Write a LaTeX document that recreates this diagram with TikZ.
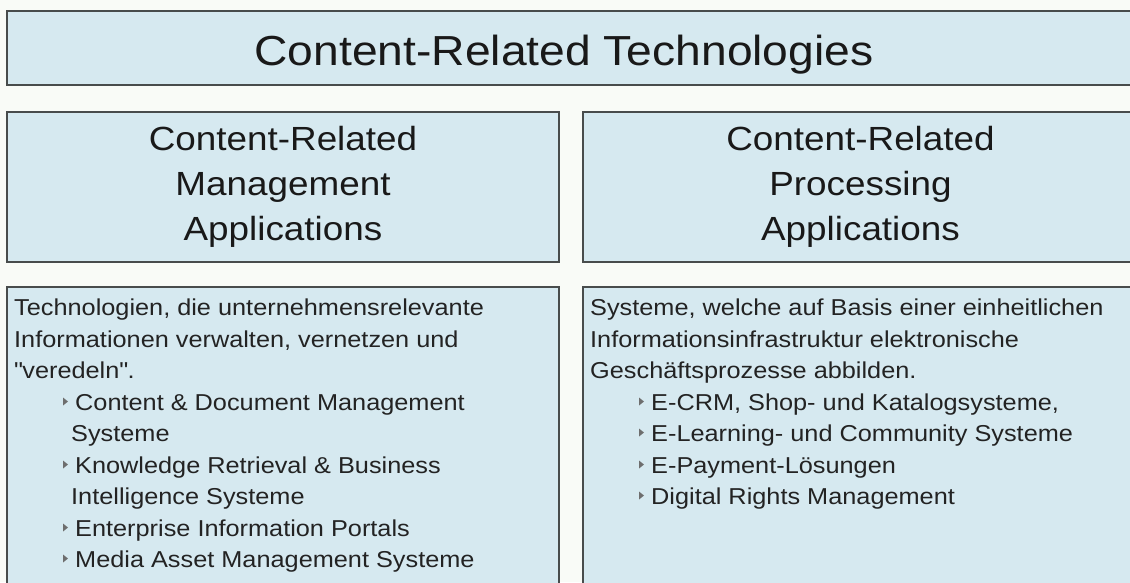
\documentclass[tikz,border=0pt]{standalone}
\usepackage{fontspec}
\setmainfont{Liberation Sans}[FakeStretch=1.1]
\definecolor{paper}{RGB}{249,251,247}
\definecolor{panelblue}{RGB}{214,233,240}
\definecolor{framegray}{RGB}{72,76,76}
\definecolor{inkgray}{RGB}{35,35,35}
\definecolor{markgray}{RGB}{110,110,110}
\tikzset{
	panel/.style={draw=framegray, line width=1.8pt, fill=panelblue, inner sep=0pt, outer sep=0pt, anchor=north west},
	headtext/.style={font=\fontsize{33.5}{45}\selectfont, align=center, text=black!90},
	bodyline/.style={font=\fontsize{23}{31.5}\selectfont, anchor=base west, inner sep=0pt, text=inkgray},
}
\newcommand{\marker}[1]{\fill[markgray] ([shift={(-12,-12.5)}]#1.base west) -- ++(0,8) -- ++(5,-4) -- cycle;}
\newcommand{\dq}{\XeTeXglyph\XeTeXcharglyph"22\relax}
\begin{document}
\begin{tikzpicture}[x=1pt, y=-1pt]
	\fill[paper] (0,0) rectangle (1130,582);
	\useasboundingbox (0,0) rectangle (1130,582);
	\clip (0,0) rectangle (1130,582);
	\node[panel, minimum width=1131pt, minimum height=74pt] (topbox) at (7,11) {};
	\node[font=\fontsize{42}{50}\selectfont, anchor=base, text=black!90] (toptitle) at (564,65) {Content-Related Technologies};
	\node[panel, minimum width=552pt, minimum height=150pt] (mgmthead) at (7,112) {};
	\node[panel, minimum width=555pt, minimum height=150pt] (prochead) at (583,112) {};
	\node[headtext] (mgmttitle) at (mgmthead.center) {Content-Related\\Management\\Applications};
	\node[headtext] (proctitle) at (prochead.center) {Content-Related\\Processing\\Applications};
	\node[panel, minimum width=552pt, minimum height=313pt] (mgmtbody) at (7,287) {};
	\node[panel, minimum width=555pt, minimum height=313pt] (procbody) at (583,287) {};
	\node[bodyline] (mgmt1) at (14,315) {Technologien, die unternehmensrelevante};
	\node[bodyline] (mgmt2) at (14,347) {Informationen verwalten, vernetzen und};
	\node[bodyline] (mgmt3) at (14,378) {\dq veredeln\dq.};
	\node[bodyline] (mgmt4) at (75,410) {Content \& Document Management};
	\node[bodyline] (mgmt5) at (71,441) {Systeme};
	\node[bodyline] (mgmt6) at (75,473) {Knowledge Retrieval \& Business};
	\node[bodyline] (mgmt7) at (71,504) {Intelligence Systeme};
	\node[bodyline] (mgmt8) at (75,536) {Enterprise Information Portals};
	\node[bodyline] (mgmt9) at (75,567) {Media Asset Management Systeme};
	\marker{mgmt4} \marker{mgmt6} \marker{mgmt8} \marker{mgmt9}
	\node[bodyline] (proc1) at (590,315) {Systeme, welche auf Basis einer einheitlichen};
	\node[bodyline] (proc2) at (590,347) {Informationsinfrastruktur elektronische};
	\node[bodyline] (proc3) at (590,378) {Geschäftsprozesse abbilden.};
	\node[bodyline] (proc4) at (651,410) {E-CRM, Shop- und Katalogsysteme,};
	\node[bodyline] (proc5) at (651,441) {E-Learning- und Community Systeme};
	\node[bodyline] (proc6) at (651,473) {E-Payment-Lösungen};
	\node[bodyline] (proc7) at (651,504) {Digital Rights Management};
	\marker{proc4} \marker{proc5} \marker{proc6} \marker{proc7}
\end{tikzpicture}
\end{document}
